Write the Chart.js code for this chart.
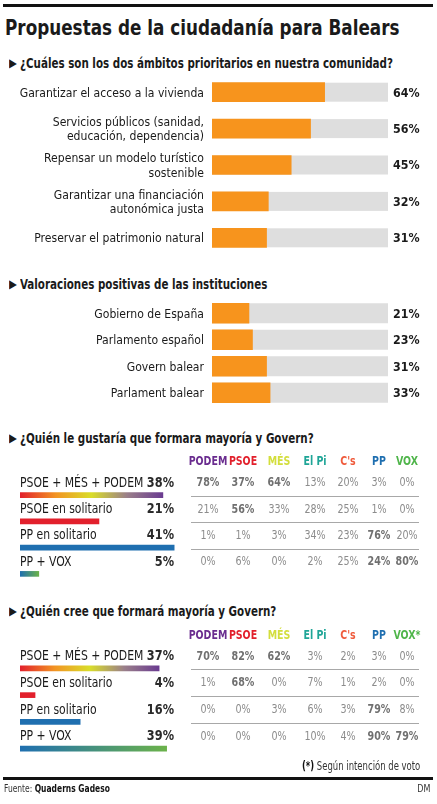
<!DOCTYPE html>
<html><head><meta charset="utf-8">
<script src="https://cdn.jsdelivr.net/npm/chart.js@4.4.0/dist/chart.umd.min.js"></script>
<style>
html,body{margin:0;padding:0;background:#fff;}
body{width:437px;height:804px;position:relative;overflow:hidden;font-family:"DejaVu Sans Condensed","DejaVu Sans",sans-serif;color:#1a1a1a;}
.t{position:absolute;white-space:nowrap;line-height:1;}
.sq{display:inline-block;transform-origin:0 50%;}
.sqr{display:inline-block;transform-origin:100% 50%;}
.rule{position:absolute;left:3px;width:430px;background:#111;}
.title{left:5px;top:17px;font-size:22px;font-weight:bold;color:#1a1a1a;}
.title .sq{transform:scaleX(.85);}
.head{left:9px;font-size:14px;font-weight:bold;color:#1a1a1a;}
.head .sq{transform:scaleX(.82);}
.tri{font-family:"DejaVu Sans";font-size:12px;position:relative;top:-1px;margin-right:2px;display:inline-block;transform:scaleX(.85);transform-origin:0 50%;}
canvas{position:absolute;left:0;}
</style>
</head><body>
<div class="rule" style="top:4px;height:3px"></div>
<div class="t title"><span class="sq">Propuestas de la ciudadanía para Balears</span></div>
<div class="t head" style="top:56px"><span class="tri">▶</span><span class="sq">¿Cuáles son los dos ámbitos prioritarios en nuestra comunidad?</span></div>
<div class="t head" style="top:277px"><span class="tri">▶</span><span class="sq">Valoraciones positivas de las instituciones</span></div>
<div class="t head" style="top:431px"><span class="tri">▶</span><span class="sq">¿Quién le gustaría que formara mayoría y Govern?</span></div>
<div class="t head" style="top:604px"><span class="tri">▶</span><span class="sq">¿Quién cree que formará mayoría y Govern?</span></div>
<canvas id="c1" width="437" height="200" style="top:64px"></canvas>
<canvas id="c2" width="437" height="122" style="top:290px"></canvas>
<canvas id="c3" width="437" height="151" style="top:442px"></canvas>
<canvas id="c4" width="437" height="152" style="top:615px"></canvas>
<div class="t" style="right:17px;top:761px;font-size:11.5px;color:#333"><span class="sqr" style="transform:scaleX(.82)"><b style="color:#111">(*)</b> Según intención de voto</span></div>
<div class="rule" style="top:777px;height:3px"></div>
<div class="t" style="left:4px;top:783px;font-size:10.5px;color:#333"><span class="sq" style="transform:scaleX(.8)">Fuente: <b style="color:#111">Quaderns Gadeso</b></span></div>
<div class="t" style="right:7px;top:783px;font-size:10.5px;color:#333"><span class="sqr" style="transform:scaleX(.85)">DM</span></div>
<script>
// ---------- DATA ----------
const q1Labels = [["Garantizar el acceso a la vivienda"], ["Servicios públicos (sanidad,", "educación, dependencia)"], ["Repensar un modelo turístico", "sostenible"], ["Garantizar una financiación", "autonómica justa"], ["Preservar el patrimonio natural"]];
const q1Values = [64, 56, 45, 32, 31];

const q2Labels = [["Gobierno de España"], ["Parlamento español"], ["Govern balear"], ["Parlament balear"]];
const q2Values = [21, 23, 31, 33];

const options = ["PSOE + MÉS + PODEM", "PSOE en solitario", "PP en solitario", "PP + VOX"];
const parties = ["PODEM", "PSOE", "MÉS", "El Pi", "C's", "PP", "VOX"];
const partiesQ4 = ["PODEM", "PSOE", "MÉS", "El Pi", "C's", "PP", "VOX*"];
const optionParties = [["PODEM", "PSOE", "MÉS"], ["PSOE"], ["PP"], ["PP", "VOX"]];

const q3Values = [38, 21, 41, 5];
const q3Table = [
  [78, 37, 64, 13, 20, 3, 0],
  [21, 56, 33, 28, 25, 1, 0],
  [1, 1, 3, 34, 23, 76, 20],
  [0, 6, 0, 2, 25, 24, 80]
];
const q4Values = [37, 4, 16, 39];
const q4Table = [
  [70, 82, 62, 3, 2, 3, 0],
  [1, 68, 0, 7, 1, 2, 0],
  [0, 0, 3, 6, 3, 79, 8],
  [0, 0, 0, 10, 4, 90, 79]
];

// ---------- STYLE ----------
const FONT = '"DejaVu Sans Condensed","DejaVu Sans",sans-serif';
const ORANGE = '#f7941d';
const TRACK = '#dedede';
const PARTY_COLORS = ['#6a2c8f', '#e2202c', '#d3de3c', '#1fa597', '#ef5b3c', '#1f6fb0', '#4fb54a'];
const OPTION_COLORS = [
  ['#e2202c', '#f29423', '#d9dd2a', '#9a7f8a', '#6a3b90'],
  ['#e2202c'],
  ['#1f6fb0'],
  ['#1f6fb0', '#6bb24a']
];
const COL_X = [208, 243, 279, 315, 348, 379, 407];
const TABLE_LEFT = 191, TABLE_RIGHT = 419;

Chart.defaults.font.family = FONT;

function txt(ctx, s, x, y, align, font, color, sx) {
  ctx.save();
  ctx.translate(x, y);
  ctx.scale(sx, 1);
  ctx.font = font;
  ctx.fillStyle = color;
  ctx.textAlign = align;
  ctx.textBaseline = 'middle';
  ctx.fillText(s, 0, 0);
  ctx.restore();
}

const trackPlugin = {
  id: 'track',
  beforeDatasetsDraw(chart) {
    const ctx = chart.ctx, x = chart.scales.x;
    const meta = chart.getDatasetMeta(0);
    ctx.save();
    ctx.fillStyle = TRACK;
    meta.data.forEach(b => {
      const x0 = x.getPixelForValue(0), x1 = x.getPixelForValue(100);
      ctx.fillRect(x0, b.y - b.height / 2, x1 - x0, b.height);
    });
    ctx.restore();
  }
};
const labelPlugin = {
  id: 'labs',
  afterDatasetsDraw(chart) {
    const ctx = chart.ctx, meta = chart.getDatasetMeta(0);
    const LH = 14.5;
    meta.data.forEach((b, i) => {
      const lines = chart.data.labels[i];
      const y0 = b.y + 1 - (lines.length - 1) * LH / 2;
      lines.forEach((l, k) => txt(ctx, l, chart.chartArea.left - 8, y0 + k * LH, 'right', '13px ' + FONT, '#1a1a1a', 0.93));
      txt(ctx, chart.data.datasets[0].data[i] + '%', chart.chartArea.right + 5, b.y + 1, 'left', 'bold 13px ' + FONT, '#1a1a1a', 0.95);
    });
  }
};

function orangeChart(id, labels, values, padTop, padBottom, thick) {
  new Chart(document.getElementById(id), {
    type: 'bar',
    data: { labels: labels, datasets: [{ data: values, backgroundColor: ORANGE, barThickness: thick, borderWidth: 0 }] },
    options: {
      responsive: false, animation: false, indexAxis: 'y',
      layout: { padding: { left: 212, right: 49, top: padTop, bottom: padBottom } },
      scales: { x: { min: 0, max: 100, display: false }, y: { display: false } },
      plugins: { legend: { display: false }, tooltip: { enabled: false } }
    },
    plugins: [trackPlugin, labelPlugin]
  });
}

orangeChart('c1', q1Labels, q1Values, 10, 8, 19);
orangeChart('c2', q2Labels, q2Values, 10, 6, 20);

function tablePlugin(heads, table) {
  return {
    id: 'table',
    afterDatasetsDraw(chart) {
      const ctx = chart.ctx, meta = chart.getDatasetMeta(0);
      const vals = chart.data.datasets[0].data;
      const labels = chart.data.labels;
      meta.data.forEach((b, i) => {
        const ty = b.y - 12;
        txt(ctx, labels[i], chart.chartArea.left, ty, 'left', '14px ' + FONT, '#1a1a1a', 0.86);
        txt(ctx, vals[i] + '%', 174, ty, 'right', 'bold 14px ' + FONT, '#2a2a2a', 0.9);
        table[i].forEach((v, j) => {
          const bold = optionParties[i].includes(parties[j]);
          txt(ctx, v + '%', COL_X[j], ty, 'center', (bold ? 'bold ' : '') + '12.5px ' + FONT, bold ? '#707070' : '#8c8c8c', 0.85);
        });
        if (i < meta.data.length - 1) {
          ctx.save();
          ctx.strokeStyle = '#a8a8a8';
          ctx.lineWidth = 1;
          ctx.beginPath();
          ctx.moveTo(TABLE_LEFT, Math.round(b.y + 1) + 0.5);
          ctx.lineTo(TABLE_RIGHT, Math.round(b.y + 1) + 0.5);
          ctx.stroke();
          ctx.restore();
        }
      });
      const hy = meta.data[0].y - 33;
      heads.forEach((h, j) => txt(ctx, h, COL_X[j], hy, 'center', 'bold 12.5px ' + FONT, PARTY_COLORS[j], 0.84));
    }
  };
}

function optionChart(id, values, heads, table, padTop, padBottom) {
  new Chart(document.getElementById(id), {
    type: 'bar',
    data: {
      labels: options,
      datasets: [{
        data: values, barThickness: 5, borderWidth: 0,
        backgroundColor(c) {
          const ch = c.chart, stops = OPTION_COLORS[c.dataIndex];
          if (stops.length === 1 || !ch.chartArea) return stops[0];
          const x = ch.scales.x;
          const x0 = x.getPixelForValue(0), x1 = x.getPixelForValue(c.raw);
          const g = ch.ctx.createLinearGradient(x0, 0, x1, 0);
          stops.forEach((s, k) => g.addColorStop(k / (stops.length - 1), s));
          return g;
        }
      }]
    },
    options: {
      responsive: false, animation: false, indexAxis: 'y',
      layout: { padding: { left: 20, right: 41, top: padTop, bottom: padBottom } },
      scales: { x: { min: 0, max: 100, display: false }, y: { display: false } },
      plugins: { legend: { display: false }, tooltip: { enabled: false } }
    },
    plugins: [tablePlugin(heads, table)]
  });
}

optionChart('c3', q3Values, parties, q3Table, 40, 6);
optionChart('c4', q4Values, partiesQ4, q4Table, 40, 5);
</script>
</body></html>
